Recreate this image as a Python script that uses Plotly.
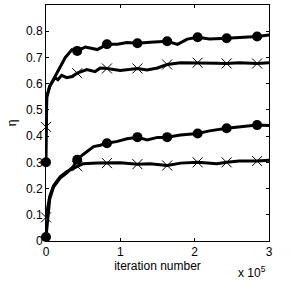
import plotly.graph_objects as go

# x in units of 1e5 iterations
a_x = [0, 0.005, 0.01, 0.05, 0.1, 0.16, 0.26, 0.35, 0.42, 0.53, 0.6, 0.69, 0.82, 0.96, 1.09, 1.23, 1.4, 1.5, 1.63, 1.77, 1.9, 2.04, 2.2, 2.43, 2.6, 2.84, 3.0]
a_y = [0.30, 0.45, 0.55, 0.59, 0.615, 0.65, 0.70, 0.73, 0.725, 0.74, 0.735, 0.73, 0.75, 0.75, 0.757, 0.754, 0.758, 0.76, 0.762, 0.75, 0.77, 0.777, 0.77, 0.773, 0.775, 0.78, 0.786]
b_x = [0, 0.01, 0.05, 0.1, 0.12, 0.16, 0.21, 0.28, 0.35, 0.42, 0.55, 0.66, 0.73, 0.82, 1.0, 1.23, 1.36, 1.5, 1.63, 1.81, 2.04, 2.3, 2.43, 2.6, 2.84, 3.0]
b_y = [0.435, 0.55, 0.59, 0.615, 0.623, 0.615, 0.632, 0.623, 0.627, 0.64, 0.654, 0.646, 0.66, 0.658, 0.65, 0.658, 0.652, 0.66, 0.673, 0.68, 0.68, 0.678, 0.677, 0.68, 0.677, 0.68]
c_x = [0, 0.03, 0.05, 0.1, 0.19, 0.28, 0.37, 0.42, 0.5, 0.64, 0.73, 0.82, 0.96, 1.09, 1.23, 1.36, 1.5, 1.63, 1.81, 2.04, 2.2, 2.43, 2.6, 2.84, 3.0]
c_y = [0.015, 0.12, 0.16, 0.205, 0.24, 0.26, 0.285, 0.31, 0.33, 0.36, 0.365, 0.373, 0.38, 0.39, 0.396, 0.385, 0.395, 0.396, 0.404, 0.41, 0.42, 0.43, 0.434, 0.442, 0.44]
d_x = [0, 0.03, 0.05, 0.1, 0.19, 0.28, 0.42, 0.5, 0.69, 0.82, 1.0, 1.23, 1.4, 1.63, 1.81, 2.04, 2.3, 2.43, 2.6, 2.84, 3.0]
d_y = [0.09, 0.14, 0.17, 0.21, 0.245, 0.265, 0.285, 0.295, 0.297, 0.297, 0.298, 0.293, 0.295, 0.288, 0.297, 0.3, 0.295, 0.3, 0.305, 0.305, 0.308]

mk_x = [0, 0.42, 0.82, 1.23, 1.63, 2.04, 2.43, 2.84]
a_mk = [0.30, 0.725, 0.75, 0.754, 0.762, 0.777, 0.773, 0.78]
b_mk = [0.435, 0.64, 0.658, 0.658, 0.673, 0.68, 0.677, 0.677]
c_mk = [0.015, 0.31, 0.373, 0.396, 0.396, 0.41, 0.43, 0.442]
d_mk = [0.09, 0.285, 0.297, 0.293, 0.288, 0.3, 0.3, 0.305]

x_ticks = [0, 1, 2, 3]
y_ticks = [0, 0.1, 0.2, 0.3, 0.4, 0.5, 0.6, 0.7, 0.8]

fig = go.Figure()
for lx, ly, my, sym in [(a_x, a_y, a_mk, "circle"), (b_x, b_y, b_mk, "x-thin"),
                        (c_x, c_y, c_mk, "circle"), (d_x, d_y, d_mk, "x-thin")]:
    fig.add_trace(go.Scatter(x=lx, y=ly, mode="lines", line=dict(color="black", width=3),
                             showlegend=False, hoverinfo="skip"))
    if sym == "circle":
        m = dict(symbol="circle", size=10, color="black")
    else:
        m = dict(symbol="x-thin", size=10, color="black", line=dict(color="black", width=1))
    fig.add_trace(go.Scatter(x=mk_x, y=my, mode="markers", marker=m, showlegend=False, cliponaxis=False))

font = dict(family="Liberation Sans, Arial, sans-serif", size=12, color="black")
fig.update_layout(
    width=291, height=282, margin=dict(l=46, r=22, t=5, b=41, autoexpand=False),
    paper_bgcolor="white", plot_bgcolor="white", font=font,
    xaxis=dict(range=[0, 3], tickvals=x_ticks, ticktext=[str(v) for v in x_ticks],
               ticks="inside", ticklen=3, tickcolor="black", showline=True, linecolor="black",
               linewidth=1, mirror="ticks", showgrid=False, zeroline=False, automargin=False,
               title=dict(text="iteration number", standoff=0, font=font)),
    yaxis=dict(range=[0, 0.9], tickvals=y_ticks, ticktext=[("%g" % v) for v in y_ticks],
               ticks="inside", ticklen=3, tickcolor="black", showline=True, linecolor="black",
               linewidth=1, mirror="ticks", showgrid=False, zeroline=False, automargin=False,
               title=dict(text="η", standoff=6, font=font)),
    annotations=[dict(text="x 10<sup>5</sup>", x=0.924, y=-0.13, xref="paper", yref="paper",
                      xanchor="center", yanchor="middle", showarrow=False,
                      font=dict(family=font["family"], size=12, color="black"))],
)
fig.write_html("out.html", config={"displayModeBar": False},
               post_script="document.body.style.margin='0';document.body.style.overflow='hidden';")
